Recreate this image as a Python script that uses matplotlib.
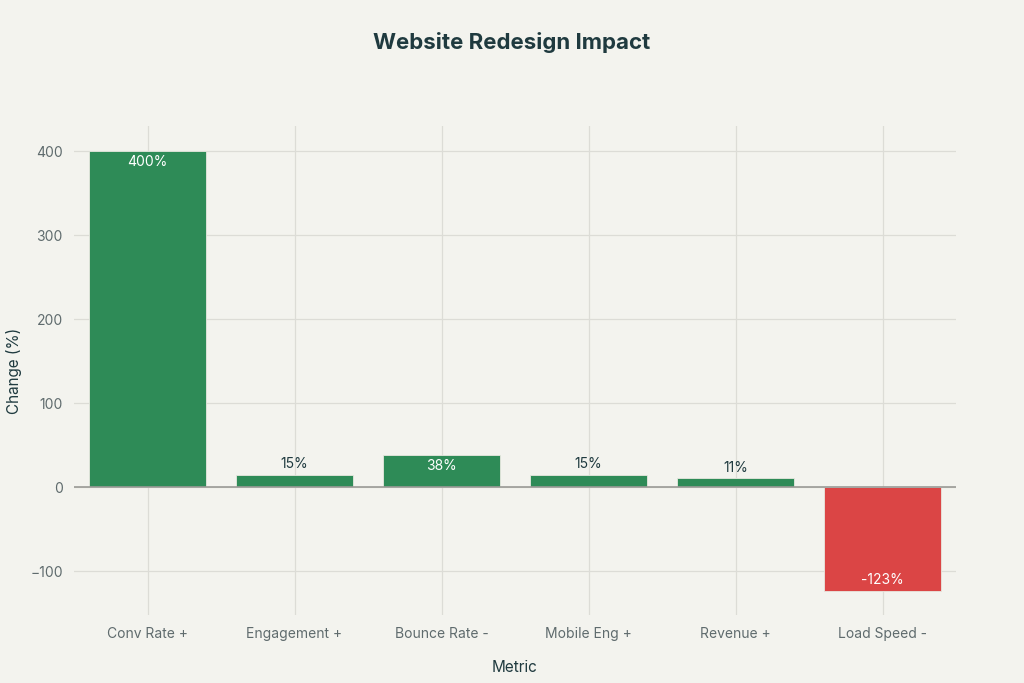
import numpy as np
import matplotlib.pyplot as plt

# data
metrics = ["Conv Rate +", "Engagement +", "Bounce Rate -", "Mobile Eng +", "Revenue +", "Load Speed -"]
changes = [400, 15, 38, 15, 11, -123]
inside = [True, False, True, False, False, True]

plt.rcParams['font.family'] = ['Inter', 'DejaVu Sans']

bg = '#F3F3EE'
green = '#2E8B57'
red = '#DB4545'
tick_col = '#5F6B6D'
dark = '#1F3A3F'

fig = plt.figure(figsize=(10.24, 6.83), dpi=100, facecolor=bg)
ax = fig.add_axes([0.0723, 0.0996, 0.8613, 0.7159], facecolor=bg)

x = np.arange(len(metrics))
colours = [green if v >= 0 else red for v in changes]
bars = ax.bar(x, changes, width=0.8, color=colours, edgecolor='#E8E8E0', linewidth=0.6, zorder=3)

ax.axhline(0, color='#9A9A96', linewidth=1.2, zorder=4)

for b, v, ins in zip(bars, changes, inside):
    cx = b.get_x() + b.get_width() / 2
    lab = f"{v}%"
    if ins:
        if v >= 0:
            ax.text(cx, v - 4, lab, ha='center', va='top', color='white', fontsize=10, zorder=5)
        else:
            ax.text(cx, v + 4, lab, ha='center', va='bottom', color='white', fontsize=10, zorder=5)
    else:
        ax.text(cx, v + 4, lab, ha='center', va='bottom', color=dark, fontsize=10, zorder=5)

ax.set_xlim(-0.5, 5.5)
ax.set_ylim(-152, 430)
ax.set_yticks([-100, 0, 100, 200, 300, 400])
ax.set_yticklabels(['\u2212100', '0', '100', '200', '300', '400'])
ax.set_xticks(x)
ax.set_xticklabels(metrics)

ax.grid(True, color='#DCDCD6', linewidth=0.9, zorder=0)
ax.set_axisbelow(True)
for s in ax.spines.values():
    s.set_visible(False)
ax.tick_params(axis='both', length=0, colors=tick_col, labelsize=10)
ax.tick_params(axis='x', pad=9)
ax.tick_params(axis='y', pad=8)

ax.set_xlabel('Metric', fontsize=11, color=dark, labelpad=13)
ax.set_ylabel('Change (%)', fontsize=11, color=dark, labelpad=6)

fig.text(0.5, 0.938, 'Website Redesign Impact', ha='center', va='center',
         fontsize=16, fontweight='bold', color=dark)

fig.savefig('out.png', dpi=100, facecolor=bg)
